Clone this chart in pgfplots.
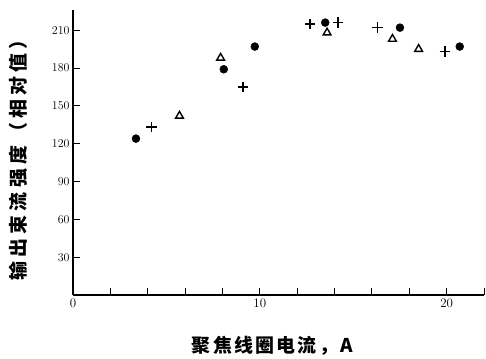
\documentclass[border=0pt]{standalone}
\usepackage{pgfplots}
\pgfplotsset{compat=1.18}
\usepackage{fontspec}
\newfontfamily\cjkx[LetterSpace=12]{Noto Sans CJK SC}
\newfontfamily\cjky[LetterSpace=22]{Noto Sans CJK SC}
\begin{document}
\begin{tikzpicture}[x=1bp,y=1bp]
\path[use as bounding box] (0,0) rectangle (486,358);
\begin{axis}[
  at={(73bp,63bp)}, anchor=origin,
  scale only axis, width=411bp, height=285bp,
  xmin=0, xmax=22, ymin=0, ymax=226,
  axis x line*=bottom, axis y line*=left,
  axis line style={line width=1.2pt},
  xtick={0,2,...,22}, xticklabels={0,,,,,10,,,,,20,},
  ytick={30,60,...,210},
  tick align=inside, major tick length=7bp,
  tick style={line width=0.9pt, black},
  ticklabel style={font=\fontsize{13}{14}\selectfont},
  xlabel={\cjkx\bfseries 聚焦线圈电流，A},
  ylabel={\cjky\bfseries 输出束流强度（相对值）},
  xlabel style={at={(axis description cs:0.485,-0.18)}, anchor=center, font=\fontsize{19}{20}\selectfont},
  ylabel style={at={(axis description cs:-0.134,0.49)}, anchor=center, rotate=0, font=\fontsize{19}{20}\selectfont},
  clip=false,
]
\addplot[only marks, mark=*, mark size=4bp, black] coordinates {
 (3.37,124) (8.07,179) (9.73,197) (13.5,216) (17.5,212) (20.7,197)
};
\addplot[only marks, mark=+, mark size=5.2bp, black, line width=1.6pt] coordinates {
 (4.2,133) (9.1,165) (12.7,215) (14.2,216) (16.3,212) (19.9,193)
};
\addplot[only marks, mark=triangle, mark size=4.5bp, black, line width=1.4pt] coordinates {
 (5.7,142) (7.9,188) (13.6,208) (17.1,203) (18.5,195)
};
\end{axis}
\end{tikzpicture}
\end{document}
